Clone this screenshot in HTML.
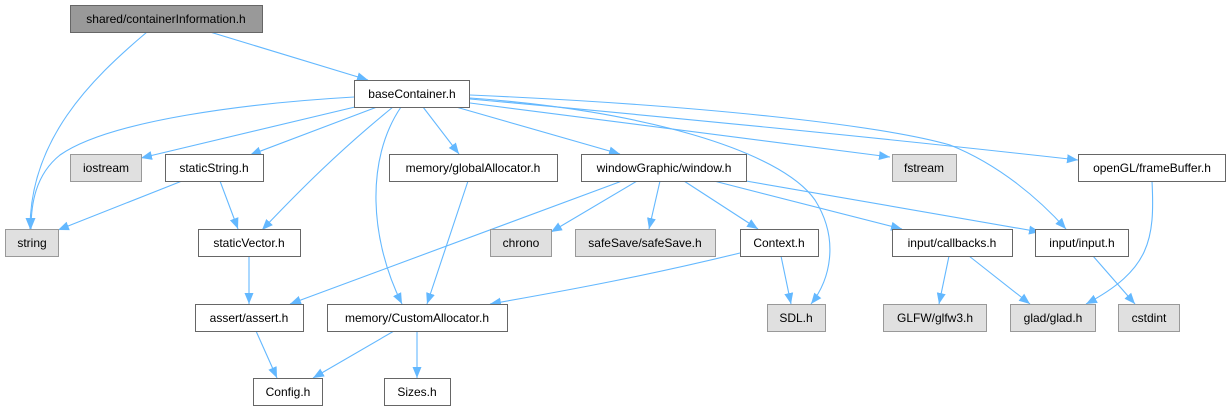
<!DOCTYPE html>
<html><head><meta charset="utf-8"><style>
html,body{margin:0;padding:0;background:#fff;width:1229px;height:411px;overflow:hidden}
svg{display:block}
text{font-family:"Liberation Sans",sans-serif;font-size:12px;fill:#000}
</style></head><body>
<svg width="1229" height="411" viewBox="0 0 1229 411" xmlns="http://www.w3.org/2000/svg">
<defs><marker id="a" viewBox="0 0 11 10" refX="11" refY="5" markerWidth="11" markerHeight="10" markerUnits="userSpaceOnUse" orient="auto"><path d="M0,0.5 L11,5 L0,9.5 z" fill="#63b8ff"/></marker></defs>
<g fill="none" stroke="#63b8ff" stroke-width="1.1" marker-end="url(#a)">
<path d="M147,32 C90,80 30,140 30,229"/>
<path d="M210,32 L368,80"/>
<path d="M354,97 C250,103 110,120 60,155 C35,175 31,205 31,229"/>
<path d="M355,107 L141,158"/>
<path d="M377,107 L250,155"/>
<path d="M393,107 C340,150 300,190 262,230"/>
<path d="M401,107 C365,160 370,240 402,304"/>
<path d="M423,107 L459,154"/>
<path d="M456,107 L620,154"/>
<path d="M470,98 C640,110 780,150 815,200 C840,240 830,280 811,304"/>
<path d="M470,103 L890,157"/>
<path d="M470,95 C700,105 880,125 950,145 C1000,165 1040,200 1066,229"/>
<path d="M470,99 C700,120 900,140 1078,160"/>
<path d="M182,181 L58,230"/>
<path d="M220,181 L238,229"/>
<path d="M249,256 L249,304"/>
<path d="M468,181 L427,304"/>
<path d="M622,181 L290,304"/>
<path d="M637,181 L551,232"/>
<path d="M660,181 L649,229"/>
<path d="M684,181 L758,229"/>
<path d="M714,181 L902,229"/>
<path d="M746,181 L1040,232"/>
<path d="M740,253 C650,275 570,290 490,304"/>
<path d="M781,256 L791,304"/>
<path d="M949,256 L939,304"/>
<path d="M969,256 L1030,304"/>
<path d="M1093,256 L1135,304"/>
<path d="M1152,181 C1155,240 1150,270 1086,304"/>
<path d="M256,331 L277,378"/>
<path d="M394,331 L313,378"/>
<path d="M417,331 L417,378"/>
</g>
<g stroke-width="1">
<rect x="70.5" y="5.5" width="192" height="27" fill="#999" stroke="#666"/>
<rect x="354.5" y="80.5" width="115" height="27" fill="#fff" stroke="#666"/>
<rect x="70.5" y="154.5" width="71" height="27" fill="#e0e0e0" stroke="#999"/>
<rect x="165.5" y="154.5" width="98" height="27" fill="#fff" stroke="#666"/>
<rect x="389.5" y="154.5" width="168" height="27" fill="#fff" stroke="#666"/>
<rect x="581.5" y="154.5" width="165" height="27" fill="#fff" stroke="#666"/>
<rect x="892.5" y="154.5" width="64" height="27" fill="#e0e0e0" stroke="#999"/>
<rect x="1078.5" y="154.5" width="147" height="27" fill="#fff" stroke="#666"/>
<rect x="5.5" y="229.5" width="53" height="27" fill="#e0e0e0" stroke="#999"/>
<rect x="198.5" y="229.5" width="102" height="27" fill="#fff" stroke="#666"/>
<rect x="490.5" y="229.5" width="61" height="27" fill="#e0e0e0" stroke="#999"/>
<rect x="575.5" y="229.5" width="140" height="27" fill="#e0e0e0" stroke="#999"/>
<rect x="740.5" y="229.5" width="78" height="27" fill="#fff" stroke="#666"/>
<rect x="892.5" y="229.5" width="120" height="27" fill="#fff" stroke="#666"/>
<rect x="1035.5" y="229.5" width="93" height="27" fill="#fff" stroke="#666"/>
<rect x="195.5" y="304.5" width="108" height="27" fill="#fff" stroke="#666"/>
<rect x="327.5" y="304.5" width="180" height="27" fill="#fff" stroke="#666"/>
<rect x="767.5" y="304.5" width="58" height="27" fill="#e0e0e0" stroke="#999"/>
<rect x="883.5" y="304.5" width="103" height="27" fill="#e0e0e0" stroke="#999"/>
<rect x="1010.5" y="304.5" width="85" height="27" fill="#e0e0e0" stroke="#999"/>
<rect x="1118.5" y="304.5" width="61" height="27" fill="#e0e0e0" stroke="#999"/>
<rect x="253.5" y="378.5" width="69" height="27" fill="#fff" stroke="#666"/>
<rect x="384.5" y="378.5" width="66" height="27" fill="#fff" stroke="#666"/>
</g>
<g text-anchor="middle">
<text x="166" y="23">shared/containerInformation.h</text>
<text x="412" y="98">baseContainer.h</text>
<text x="106" y="172">iostream</text>
<text x="214" y="172">staticString.h</text>
<text x="473" y="172">memory/globalAllocator.h</text>
<text x="664" y="172">windowGraphic/window.h</text>
<text x="924" y="172">fstream</text>
<text x="1152" y="172">openGL/frameBuffer.h</text>
<text x="32" y="247">string</text>
<text x="249" y="247">staticVector.h</text>
<text x="521" y="247">chrono</text>
<text x="645" y="247">safeSave/safeSave.h</text>
<text x="779" y="247">Context.h</text>
<text x="952" y="247">input/callbacks.h</text>
<text x="1082" y="247">input/input.h</text>
<text x="249" y="322">assert/assert.h</text>
<text x="417" y="322">memory/CustomAllocator.h</text>
<text x="796" y="322">SDL.h</text>
<text x="935" y="322">GLFW/glfw3.h</text>
<text x="1053" y="322">glad/glad.h</text>
<text x="1149" y="322">cstdint</text>
<text x="288" y="396">Config.h</text>
<text x="417" y="396">Sizes.h</text>
</g>
</svg>
</body></html>
